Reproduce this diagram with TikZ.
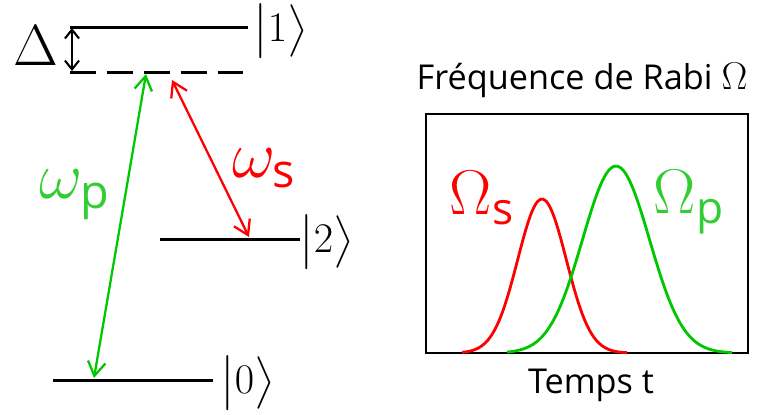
\RequirePackage{fix-cm}
\documentclass[tikz,border=0pt]{standalone}
\usepackage{amsmath}
\usepackage{fontspec}
\setsansfont{Open Sans}
\usetikzlibrary{arrows.meta,positioning}

\definecolor{pumpgreen}{RGB}{0,200,0}
\definecolor{labelgreen}{RGB}{51,204,51}
\definecolor{stokesred}{RGB}{255,0,0}

\begin{document}
\begin{tikzpicture}[x=0.02cm, y=-0.02cm, >={Straight Barb[length=8pt,width=10pt]},
  level/.style={line width=1.7pt},
  laser/.style={line width=1.3pt, <->},
  ket/.style={font=\fontsize{24}{26}\selectfont, inner sep=0pt, anchor=west},
  greek/.style={font=\fontsize{38}{38}\selectfont, inner sep=0pt},
  pulse/.style={line width=1.6pt, smooth, samples=60}]

\useasboundingbox (0,0) rectangle (760,414);

% Coordinates
\coordinate (E1a) at (70,27);
\coordinate (E1b) at (248,27);
\coordinate (Va) at (70,72);
\coordinate (Vb) at (244,72);
\coordinate (E2a) at (160,239);
\coordinate (E2b) at (300,239);
\coordinate (E0a) at (53,380);
\coordinate (E0b) at (213,380);

% Levels
\draw[level] (E1a) -- (E1b);
\draw[level] (E2a) -- (E2b);
\draw[level] (E0a) -- (E0b);

% Virtual level
\draw[level, dash pattern=on 14.7pt off 6.3pt] (Va) -- (Vb);

% Kets
\node[ket] (k1) at (253,31) {$\bigl|1\bigr\rangle$};
\node[ket] (k2) at (299,242) {$\bigl|2\bigr\rangle$};
\node[ket] (k0) at (220,383) {$\bigl|0\bigr\rangle$};

% Detuning
\coordinate (Dt) at (72,28);
\coordinate (Db) at (72,71);
\draw[line width=1.2pt, {Straight Barb[length=5pt,width=8pt]}-{Straight Barb[length=5pt,width=8pt]}] (Dt) -- (Db);
\node[font=\fontsize{33}{33}\selectfont, inner sep=0pt] (delta) at (36,46) {$\Delta$};

% Pump and Stokes
\coordinate (Pt) at (146,74);
\coordinate (Pb) at (94,378);
\coordinate (St) at (172,80);
\coordinate (Sb) at (249,237);
\draw[laser, pumpgreen] (Pt) -- (Pb);
\draw[laser, stokesred] (St) -- (Sb);
\node[greek, labelgreen] (wp) at (75,195) {$\omega_{\textsf{p}}$};
\node[greek, stokesred] (ws) at (264,168) {$\omega_{\textsf{s}}$};

% Rabi frequencies
\node[font=\sffamily\fontsize{19.5}{22}\selectfont] (title) at (582,80) {Fréquence de Rabi \fontsize{22}{22}\selectfont$\Omega$};
\draw[line width=1.4pt] (426,114) rectangle (748,353);
\node[font=\sffamily\fontsize{19.5}{22}\selectfont] (time) at (591,385) {Temps t};

\draw[pulse, stokesred] plot[domain=462:627] (\x, {353-154*exp(-0.5*((\x-542)/24.3)^2)});
\draw[pulse, pumpgreen] plot[domain=507:732] (\x, {353-187*exp(-0.5*((\x-616)/33.5)^2)});

\node[font=\fontsize{36}{36}\selectfont, inner sep=0pt, stokesred] (Os) at (482,198) {$\Omega_{\textsf{s}}$};
\node[font=\fontsize{36}{36}\selectfont, inner sep=0pt, labelgreen] (Op) at (689,202) {$\Omega_{\textsf{p}}$};

\end{tikzpicture}
\end{document}
